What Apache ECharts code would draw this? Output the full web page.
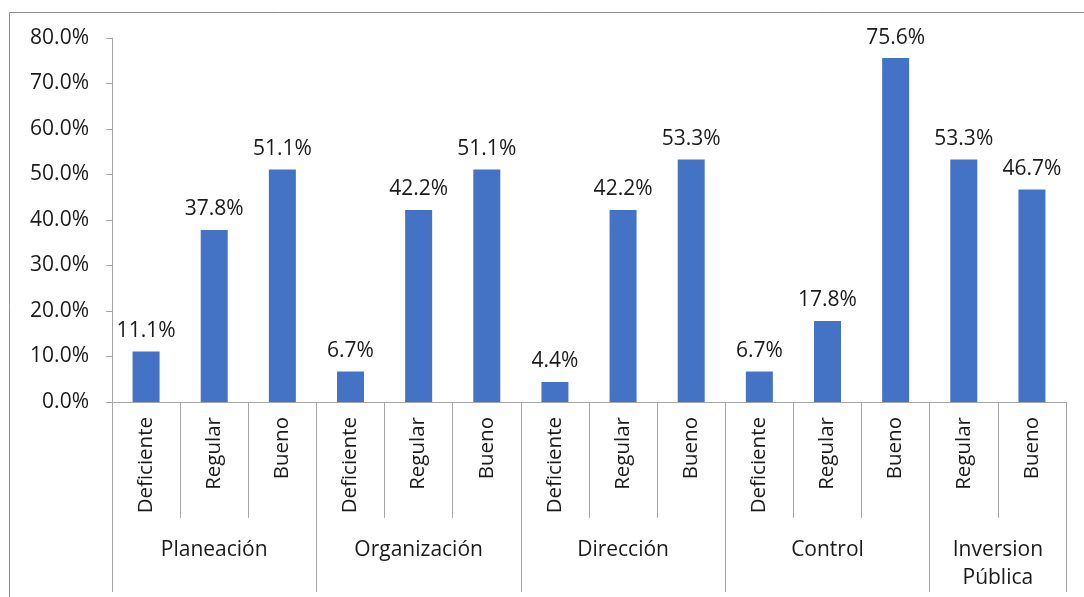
<!DOCTYPE html>
<html>
<head>
<meta charset="utf-8">
<script src="https://cdn.jsdelivr.net/npm/echarts@6/dist/echarts.min.js"></script>
<style>
html,body{margin:0;padding:0;background:#fff;}
#chart{width:1084px;height:597px;}
</style>
</head>
<body>
<div id="chart"></div>
<script>
const categories = ['Deficiente','Regular','Bueno','Deficiente','Regular','Bueno','Deficiente','Regular','Bueno','Deficiente','Regular','Bueno','Regular','Bueno'];
const values = [11.1,37.8,51.1,6.7,42.2,51.1,4.4,42.2,53.3,6.7,17.8,75.6,53.3,46.7];
const groups = ['Planeación','Organización','Dirección','Control','Inversion\nPública'];
const groupSizes = [3,3,3,3,2];
const yMin = 0, yMax = 80, yStep = 10;

// group boundaries and centers in category units
const bounds = [0];
const centers = [];
groupSizes.forEach(s => { const b = bounds[bounds.length-1]; centers.push(b + s/2); bounds.push(b + s); });
const total = bounds[bounds.length-1];

const FONT = 'Open Sans';
const TXT = '#1a1a1a';
const AX = '#a6a6a6';

const chart = echarts.init(document.getElementById('chart'));
chart.setOption({
  animation: false,
  textStyle: {fontFamily: FONT},
  graphic: [{
    type: 'rect', silent: true, z: -1,
    shape: {x: 9.5, y: 12.5, width: 1100, height: 620},
    style: {fill: 'none', stroke: '#8c8c8c', lineWidth: 1}
  }],
  grid: {left: 112, right: 18, top: 38, bottom: 195},
  xAxis: [{
    type: 'category',
    data: categories,
    position: 'bottom',
    axisLine: {show: true, lineStyle: {color: AX, width: 1}},
    axisTick: {show: true, interval: 0, length: 116, lineStyle: {color: AX}},
    axisLabel: {interval: 0, rotate: 90, margin: 15, fontSize: 20.5, color: TXT, fontFamily: FONT}
  }, {
    type: 'value',
    min: 0, max: total,
    position: 'bottom',
    axisLine: {show: false},
    splitLine: {show: false},
    axisTick: {show: true, customValues: bounds, length: 190, lineStyle: {color: AX}},
    axisLabel: {
      customValues: centers, margin: 134, fontSize: 21, lineHeight: 28, color: TXT, fontFamily: FONT,
      formatter: v => { const i = centers.findIndex(c => Math.abs(c - v) < 1e-6); return i >= 0 ? groups[i] : ''; }
    }
  }],
  yAxis: {
    type: 'value', min: yMin, max: yMax, interval: yStep,
    axisLine: {show: true, lineStyle: {color: AX}},
    axisTick: {show: true, length: 6, lineStyle: {color: AX}},
    splitLine: {show: false},
    axisLabel: {margin: 23, fontSize: 21, color: TXT, fontFamily: FONT, formatter: v => v.toFixed(1) + '%'}
  },
  series: [{
    type: 'bar',
    xAxisIndex: 0,
    data: values,
    barWidth: 27,
    itemStyle: {color: '#4472C4'},
    label: {show: true, position: 'top', distance: 10, fontSize: 21, color: TXT, fontFamily: FONT, formatter: p => p.value.toFixed(1) + '%'}
  }]
});
</script>
</body>
</html>
